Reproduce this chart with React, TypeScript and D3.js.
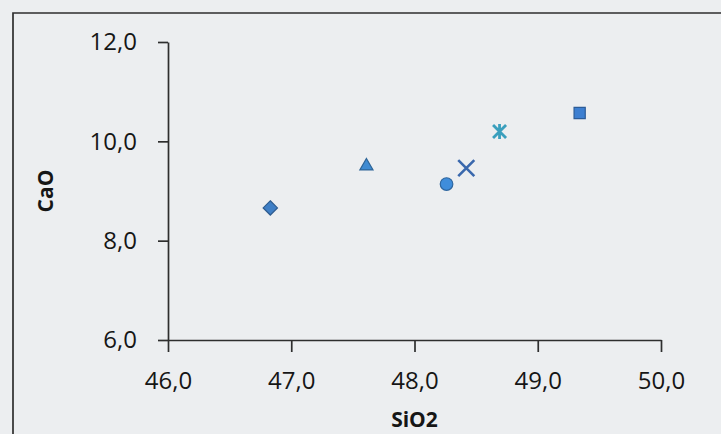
import React, { useEffect, useRef } from "react";
import * as d3 from "d3";

// one sample per series, each with its own marker
const samples = ["A", "B", "C", "D", "E", "F"];
const sio2 = [46.83, 47.61, 48.26, 48.42, 48.69, 49.34];
const cao = [8.66, 9.5, 9.14, 9.46, 10.2, 10.57];
const markers = ["diamond", "triangle", "circle", "x", "star", "square"];
const colors = ["#3f7fc6", "#3f8bd2", "#3f8ddb", "#3a68ad", "#3a9fbd", "#3d7fd1"];

const xTicks = [46, 47, 48, 49, 50];
const yTicks = [6, 8, 10, 12];

const W = 721;
const H = 434;

const App = () => {
  const svgRef = useRef<SVGSVGElement>(null);

  useEffect(() => {
    const svg = d3.select(svgRef.current);
    svg.selectAll("*").remove();

    const fmt = d3
      .formatLocale({ decimal: ",", thousands: ".", grouping: [3], currency: ["", ""] })
      .format(".1f");

    const x = d3.scaleLinear().domain([46, 50]).range([168, 661]);
    const y = d3.scaleLinear().domain([6, 12]).range([340, 42]);

    // photographed page background
    svg.append("rect").attr("width", W).attr("height", H).attr("fill", "#eceef0");

    // chart frame (only top and left edges are in view)
    svg
      .append("path")
      .attr("d", `M13,${H} L13,13 L${W},13`)
      .attr("fill", "none")
      .attr("stroke", "#2e2e2e")
      .attr("stroke-width", 1.7);

    const xAxis = svg
      .append("g")
      .attr("transform", `translate(0,${y(6)})`)
      .call(
        d3.axisBottom(x).tickValues(xTicks).tickFormat(fmt).tickSize(12).tickSizeOuter(0).tickPadding(20)
      );

    const yAxis = svg
      .append("g")
      .attr("transform", `translate(${x(46)},0)`)
      .call(
        d3.axisLeft(y).tickValues(yTicks).tickFormat(fmt).tickSize(10).tickSizeOuter(0).tickPadding(21)
      );

    [xAxis, yAxis].forEach((g) => {
      g.select(".domain").attr("stroke", "#2e2e2e").attr("stroke-width", 1.7);
      g.selectAll(".tick line").attr("stroke", "#2e2e2e").attr("stroke-width", 1.7);
      g.selectAll(".tick text")
        .attr("fill", "#161616")
        .style("font-family", "'Open Sans', sans-serif")
        .style("font-size", "24px");
    });

    // axis titles
    svg
      .append("text")
      .attr("x", (x(46) + x(50)) / 2)
      .attr("y", 427)
      .attr("text-anchor", "middle")
      .attr("fill", "#161616")
      .style("font-family", "'Open Sans', sans-serif")
      .style("font-size", "21px")
      .style("font-weight", "bold")
      .text("SiO2");

    svg
      .append("text")
      .attr("transform", `translate(53,${(y(6) + y(12)) / 2}) rotate(-90)`)
      .attr("text-anchor", "middle")
      .attr("fill", "#161616")
      .style("font-family", "'Open Sans', sans-serif")
      .style("font-size", "21px")
      .style("font-weight", "bold")
      .text("CaO");

    // markers
    const symType: Record<string, d3.SymbolType> = {
      diamond: d3.symbolDiamond2,
      triangle: d3.symbolTriangle,
      circle: d3.symbolCircle,
      square: d3.symbolSquare,
      x: d3.symbolTimes,
    };

    const pts = samples.map((s, i) => ({ s, x: sio2[i], y: cao[i], m: markers[i], c: colors[i] }));

    const g = svg.append("g");
    pts.forEach((p) => {
      const open = p.m === "x";
      const gp = g.append("g").attr("transform", `translate(${x(p.x)},${y(p.y)})`);
      if (p.m === "star") {
        // Excel star: an X with a vertical bar
        gp.append("path")
          .attr("d", "M-6.5,-6.5L6.5,6.5M6.5,-6.5L-6.5,6.5M0,-7.5L0,7.5")
          .attr("stroke", p.c)
          .attr("stroke-width", 2.8)
          .attr("fill", "none");
        return;
      }
      const size = p.m === "triangle" ? 75 : p.m === "diamond" ? 130 : 125;
      gp.append("path")
        .attr("d", d3.symbol().type(symType[p.m]).size(open ? 170 : size)())
        .attr("fill", open ? "none" : p.c)
        .attr("stroke", open ? p.c : d3.color(p.c)!.darker(0.9).toString())
        .attr("stroke-width", open ? 2.6 : 1.2);
    });
  }, []);

  return (
    <svg
      ref={svgRef}
      width={W}
      height={H}
      style={{ position: "fixed", left: 0, top: 0, display: "block" }}
    />
  );
};

export default App;
